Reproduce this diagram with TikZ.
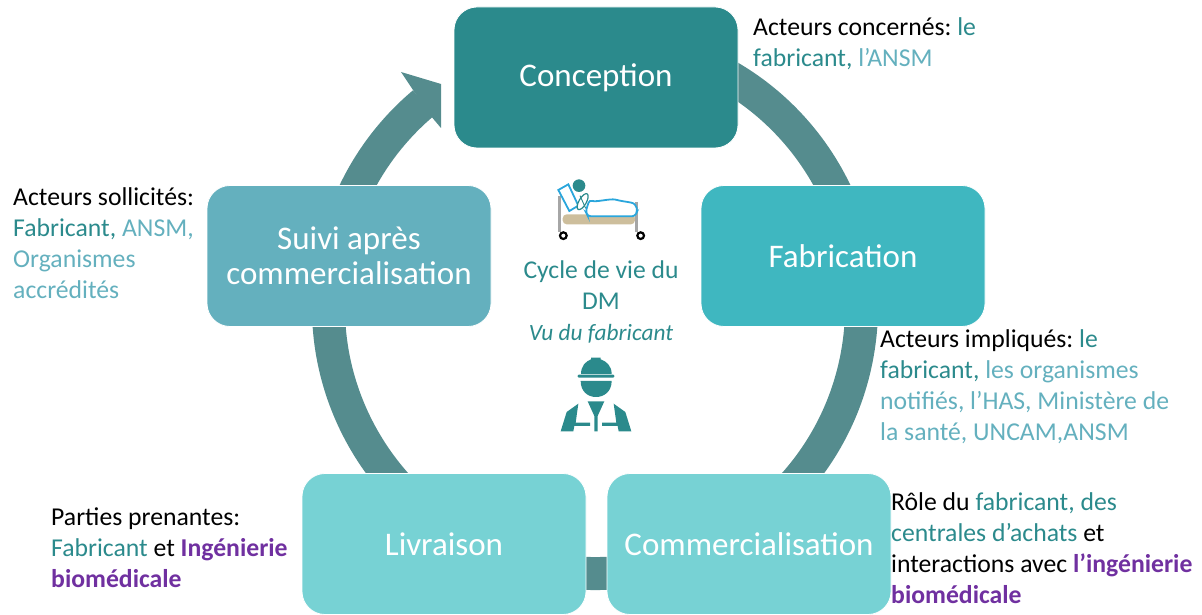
\documentclass[tikz,border=0pt]{standalone}
\usepackage{fontspec}
\setmainfont{Carlito}
\frenchspacing
\definecolor{ringcol}{HTML}{558C8E}
\definecolor{tealA}{HTML}{2B8A8C}
\definecolor{tealB}{HTML}{3FB7C0}
\definecolor{tealC}{HTML}{77D2D4}
\definecolor{tealD}{HTML}{64B0BE}
\definecolor{purpleA}{HTML}{7030A0}
\definecolor{bedblue}{HTML}{2AA6DC}
\definecolor{bedtan}{HTML}{CDBE9C}
\definecolor{bedgrey}{HTML}{A6A6A6}
\newcommand{\dk}[1]{\textcolor{tealA}{#1}}
\newcommand{\lt}[1]{\textcolor{tealD}{#1}}
\newcommand{\pu}[1]{\textcolor{purpleA}{\textbf{#1}}}
\tikzset{
  stagebox/.style={draw=white, line width=.8pt, rounded corners=23pt, minimum width=284pt, minimum height=141pt, inner sep=0pt, text=white, font=\fontsize{33}{35}\selectfont},
  actorlabel/.style={anchor=north west, inner sep=0pt, align=left, font=\fontsize{25.7}{31}\selectfont}
}
\begin{document}
\begin{tikzpicture}[x=1pt, y=1pt]
	\useasboundingbox (0,0) rectangle (1202,614);
	% ring and arrow head
	\draw[ringcol, line width=33pt] (595,307) ++(80:266.5) arc (80:-230:266.5);
	\fill[ringcol] (401,542) -- (441,530) -- (441,486) -- (430,499) -- (411,527) -- cycle;
	% stages
	\node[stagebox, fill=tealA] (conception) at (596,536.5) {Conception};
	\node[stagebox, fill=tealB] (fabrication) at (843,358) {Fabrication};
	\node[stagebox, fill=tealC] (commercialisation) at (749,70) {Commercialisation};
	\node[stagebox, fill=tealC] (livraison) at (444,70) {Livraison};
	\node[stagebox, fill=tealD, align=center] (suivi) at (349,358) {Suivi après\\commercialisation};
	% actors
	\node[actorlabel] (concernes) at (753,597) {Acteurs concernés: \dk{le}\\\dk{fabricant,} \lt{l’ANSM}};
	\node[actorlabel] (impliques) at (880,285) {Acteurs impliqués: \dk{le}\\\dk{fabricant,} \lt{les organismes}\\\lt{notifiés, l’HAS, Ministère de}\\\lt{la santé, UNCAM,ANSM}};
	\node[actorlabel] (role) at (891,122) {Rôle du \dk{fabricant, des}\\\dk{centrales d’achats} et\\interactions avec \pu{l’ingénierie}\\\pu{biomédicale}};
	\node[actorlabel] (parties) at (51,106) {Parties prenantes:\\\dk{Fabricant} et \pu{Ingénierie}\\\pu{biomédicale}};
	\node[actorlabel] (sollicites) at (13,427) {Acteurs sollicités:\\\dk{Fabricant,} \lt{ANSM,}\\\lt{Organismes}\\\lt{accrédités}};
	% centre
	\node[align=center, inner sep=0pt, text=tealA, font=\fontsize{25.6}{31}\selectfont] (cycle) at (601,312) {Cycle de vie du\\DM\\{\fontsize{23.3}{29}\selectfont\itshape Vu du fabricant}};
	% bed
	\begin{scope}[shift={(550,439)}, x=.3333pt, y=-.3333pt]
		\draw[bedgrey, line width=3pt] (27,62) -- (27,172);
		\draw[bedgrey, line width=3pt] (260,82) -- (260,172);
		\fill[bedtan, rounded corners=4pt] (38,118) rectangle (255,148);
		\draw[black, fill=white, line width=2.2pt] (40,182) circle (10);
		\draw[black, fill=white, line width=2.2pt] (272,182) circle (10);
		\draw[bedblue, fill=white, line width=1.8pt] (25,45) -- (55,28) -- (85,92) -- (58,108) -- cycle;
		\draw[tealA, fill=white, line width=1.2pt, rotate around={-30:(98,80)}] (98,80) ellipse (11 and 27);
		\draw[tealA, line width=.9pt] (90,62) -- (107,100);
		\fill[tealA] (87,32) circle (19);
		\draw[bedblue, fill=white, line width=1.8pt, rounded corners=3pt] (118,75) .. controls (140,82) and (180,70) .. (205,76) .. controls (225,80) and (245,82) .. (258,90) -- (262,108) -- (255,124) -- (114,124) -- (107,110) -- cycle;
	\end{scope}
	% worker
	\begin{scope}[shift={(555,262)}, x=.3333pt, y=-.3333pt]
		\fill[tealA] (78,66) .. controls (78,42) and (92,28) .. (108,22) -- (108,17) -- (137,17) -- (137,22) .. controls (155,28) and (170,42) .. (170,66) -- cycle;
		\fill[tealA, rounded corners=1pt] (68,68) rectangle (178,77);
		\fill[tealA] (77,87) -- (170,87) .. controls (170,118) and (148,135) .. (123,135) .. controls (98,135) and (77,118) .. (77,87) -- cycle;
		\fill[tealA] (17,238) -- (35,180) -- (70,155) -- (62,212) -- (105,212) -- (105,222) -- (58,222) -- (55,238) -- cycle;
		\fill[tealA] (229,238) -- (211,180) -- (176,155) -- (184,212) -- (141,212) -- (141,222) -- (188,222) -- (191,238) -- cycle;
		\fill[tealA] (98,148) -- (148,148) -- (128,192) -- (128,238) -- (118,238) -- (118,192) -- cycle;
	\end{scope}
\end{tikzpicture}
\end{document}
